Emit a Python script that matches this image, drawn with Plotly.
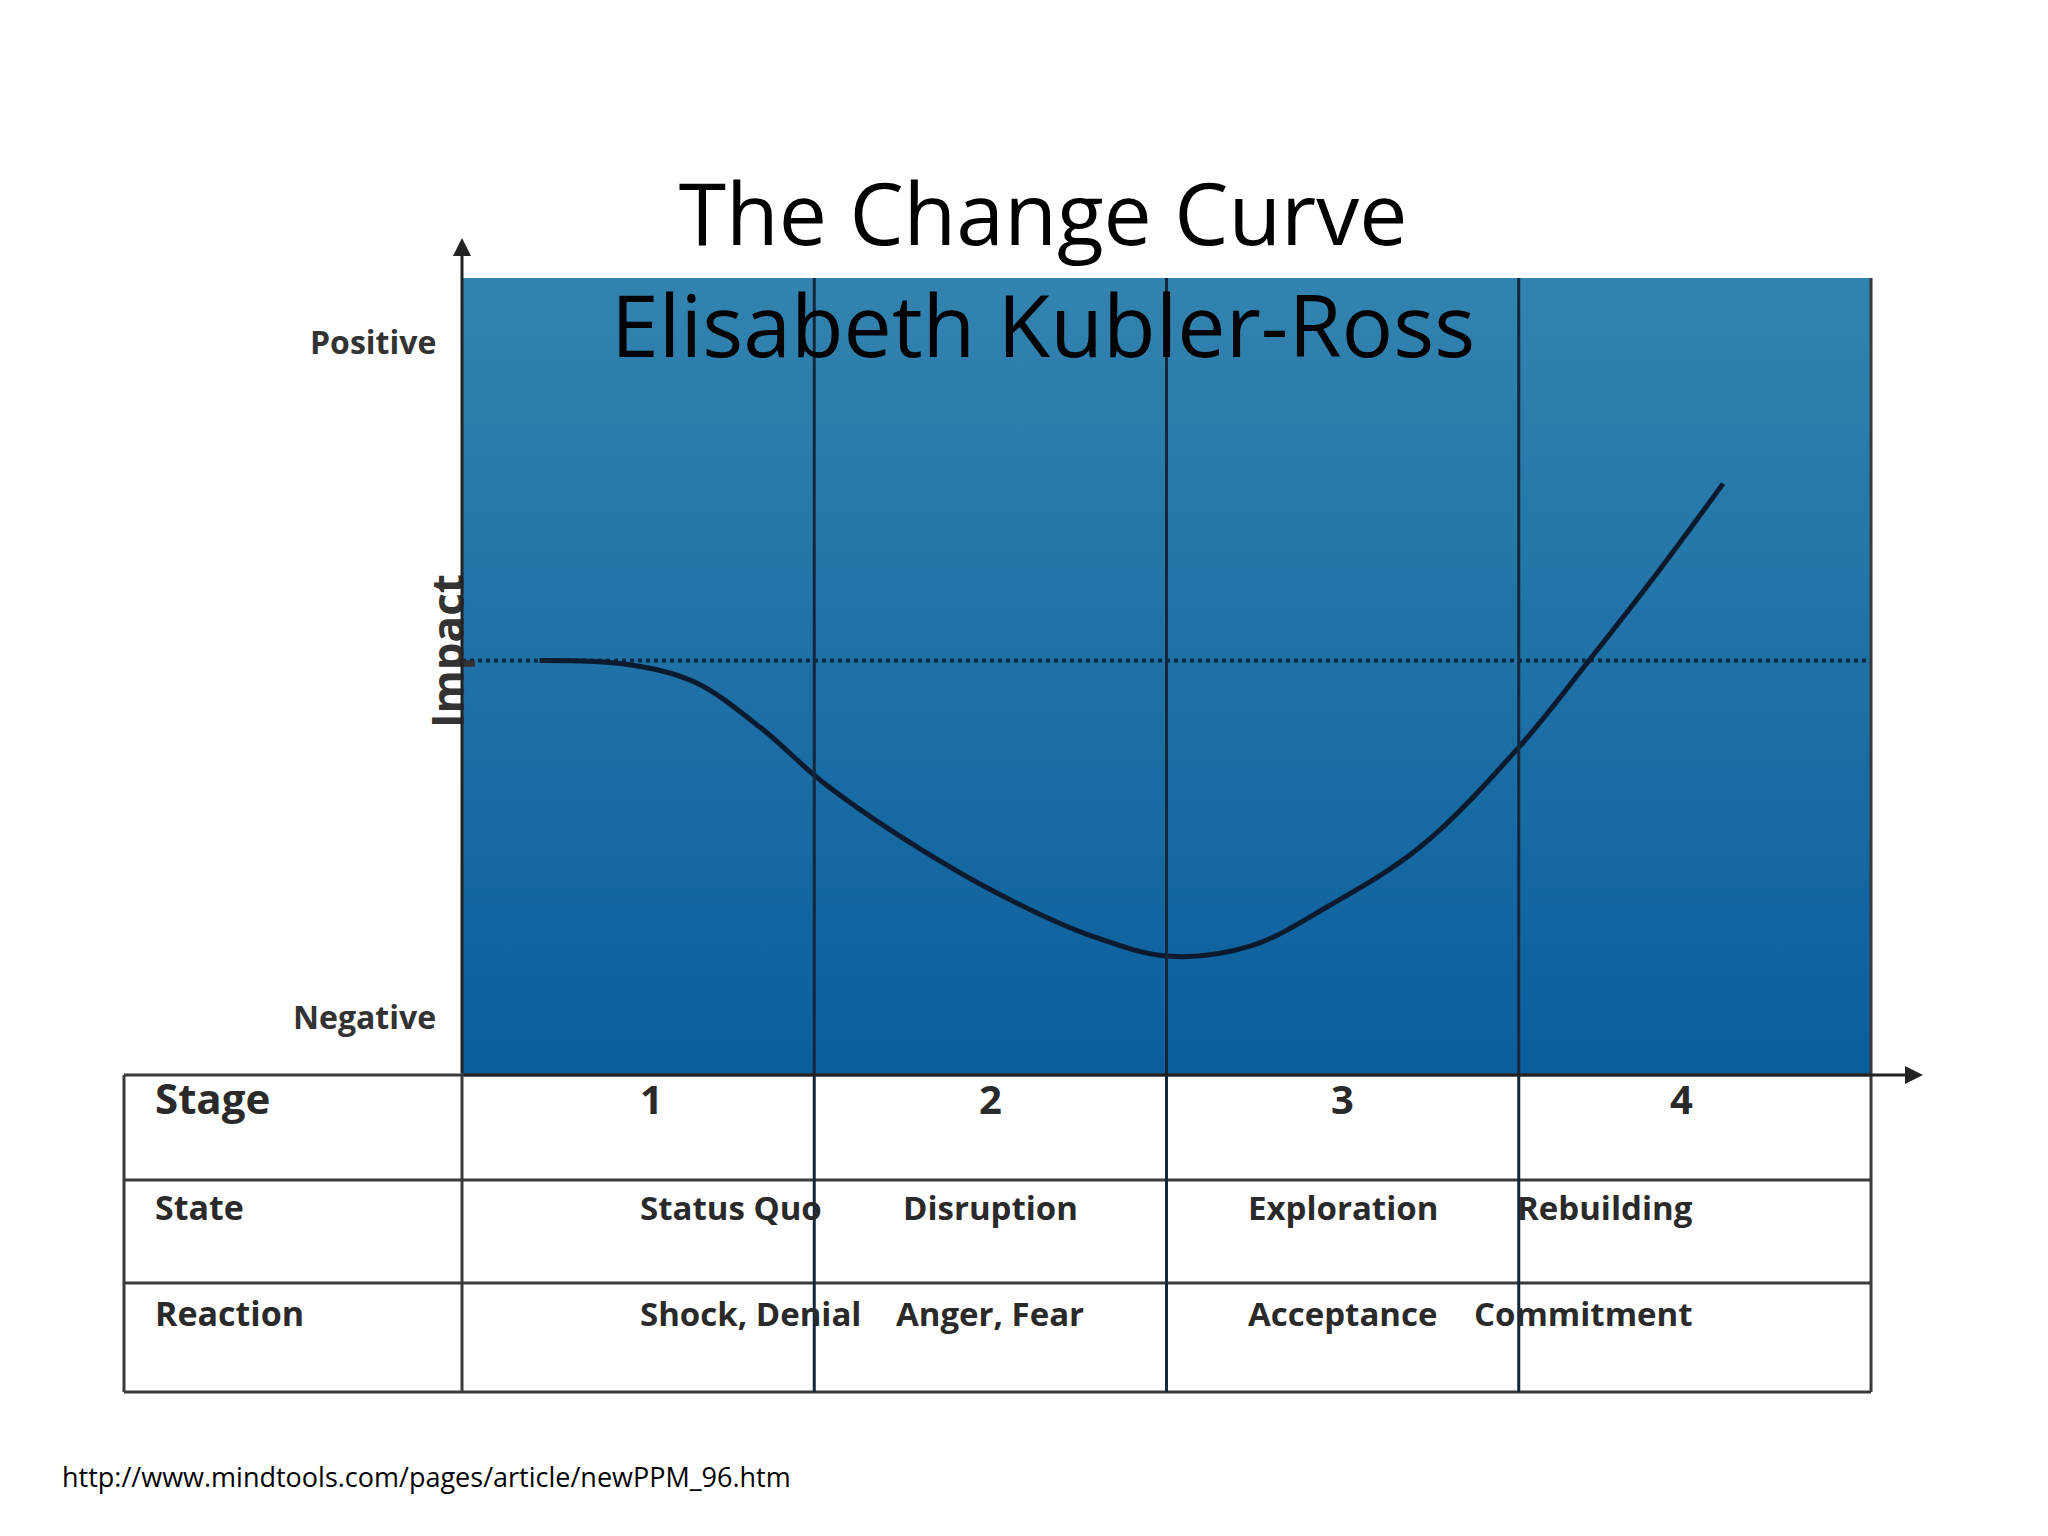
import plotly.graph_objects as go

# Curve (x in stages 0..4, y impact 0..10)
curve_x = [0.22, 0.47, 0.66, 0.85, 1.02, 1.26, 1.52, 1.79, 2.01, 2.24, 2.46, 2.72, 3.0, 3.21, 3.40, 3.58]
curve_y = [5.2, 5.15, 4.93, 4.35, 3.69, 2.95, 2.28, 1.74, 1.49, 1.62, 2.12, 2.86, 4.11, 5.26, 6.34, 7.42]
baseline = 5.2

stages = ['1', '2', '3', '4']
states = ['Status Quo', 'Disruption', 'Exploration', 'Rebuilding']
reactions = ['Shock, Denial', 'Anger, Fear', 'Acceptance', 'Commitment']
row_labels = ['Stage', 'State', 'Reaction']

W, H = 2048, 1536
L, R, T, B = 454, 1863, 270, 1067
pw, ph = R - L, B - T

def px_x(p):
    return (p - L) / pw

def px_y(p):
    return (B - p) / ph

fig = go.Figure()

# gradient background
fig.add_trace(go.Scatter(
    x=[0, 4, 4, 0, 0], y=[0, 0, 10, 10, 0], mode='lines', line=dict(width=0),
    fill='toself', fillgradient=dict(type='vertical', colorscale=[[0, '#0a5e9c'], [1, '#3383b0']]),
    hoverinfo='skip', showlegend=False))

# dotted neutral line
fig.add_trace(go.Scatter(x=[0, 4], y=[baseline, baseline], mode='lines',
                         line=dict(color='#0d2a45', width=4, dash='dot'), showlegend=False))

# change curve
fig.add_trace(go.Scatter(x=curve_x, y=curve_y, mode='lines', line=dict(color='#0b1a2e', width=5, shape='spline'),
                         showlegend=False))

shapes = []
annotations = []
line_col = '#3a3a3a'

# table rows
row_px = [1067, 1172, 1275, 1384]
tab_left = px_x(116)
for yp in row_px:
    shapes.append(dict(type='line', xref='paper', yref='paper', x0=tab_left, x1=1, y0=px_y(yp), y1=px_y(yp),
                       line=dict(color=line_col, width=3)))
shapes.append(dict(type='line', xref='paper', yref='paper', x0=tab_left, x1=tab_left, y0=px_y(1067), y1=px_y(1384),
                   line=dict(color=line_col, width=3)))
shapes.append(dict(type='line', xref='paper', yref='paper', x0=0, x1=0, y0=px_y(1067), y1=px_y(1384),
                   line=dict(color=line_col, width=3)))
for i in range(1, 5):
    shapes.append(dict(type='line', xref='paper', yref='paper', x0=i / 4, x1=i / 4, y0=1, y1=px_y(1384),
                       line=dict(color='#14263a' if i < 4 else line_col, width=3)))

# row labels and cell text
row_mid = [(row_px[k] + row_px[k + 1]) / 2 for k in range(3)]
for k, lab in enumerate(row_labels):
    annotations.append(dict(text='<b>%s</b>' % lab, xref='paper', yref='paper', x=px_x(145), y=px_y(row_mid[k]),
                            xanchor='left', showarrow=False,
                            font=dict(family='Open Sans', size=42 if k == 0 else 34, color='#2a2a2a')))
for k, vals in enumerate([stages, states, reactions]):
    for i, v in enumerate(vals):
        annotations.append(dict(text='<b>%s</b>' % v, xref='paper', yref='paper', x=(i + 0.5) / 4,
                                y=px_y(row_mid[k]), showarrow=False,
                                font=dict(family='Open Sans', size=40 if k == 0 else 33, color='#2a2a2a')))

# axis labels
for txt, yp in [('Positive', 310), ('Negative', 1032)]:
    annotations.append(dict(text='<b>%s</b>' % txt, xref='paper', yref='paper', x=px_x(430), y=px_y(yp),
                            xanchor='right', showarrow=False, font=dict(family='Open Sans', size=32, color='#333333')))
annotations.append(dict(text='<b>Impact</b>', xref='paper', yref='paper', x=px_x(407), y=px_y(643),
                        textangle=-90, showarrow=False, font=dict(family='Open Sans', size=44, color='#333333')))

# axis arrows
annotations.append(dict(xref='paper', yref='paper', x=0, y=px_y(230), ax=0, ay=1067 - 230,
                        showarrow=True, arrowhead=2, arrowsize=1.2, arrowwidth=3,
                        arrowcolor='#222222', text=''))
annotations.append(dict(xref='paper', yref='paper', x=px_x(1915), y=0, ax=-(1915 - 454), ay=0,
                        showarrow=True, arrowhead=2, arrowsize=1.2, arrowwidth=3,
                        arrowcolor='#222222', text=''))

# title and source
annotations.append(dict(text='The Change Curve<br>Elisabeth Kubler-Ross', xref='paper', yref='paper',
                        x=px_x(1035), y=px_y(143), showarrow=False,
                        font=dict(family='Open Sans', size=86, color='#000000')))
annotations.append(dict(text='http://www.mindtools.com/pages/article/newPPM_96.htm', xref='paper', yref='paper',
                        x=px_x(52), y=px_y(1489), xanchor='left', showarrow=False,
                        font=dict(family='Open Sans', size=27, color='#000000')))

fig.update_layout(
    width=W, height=H,
    margin=dict(l=L, r=W - R, t=T, b=H - B),
    paper_bgcolor='white', plot_bgcolor='#1d72a8',
    xaxis=dict(range=[0, 4], visible=False, fixedrange=True),
    yaxis=dict(range=[0, 10], visible=False, fixedrange=True),
    shapes=shapes, annotations=annotations, showlegend=False,
)

fig.write_html("out.html")
